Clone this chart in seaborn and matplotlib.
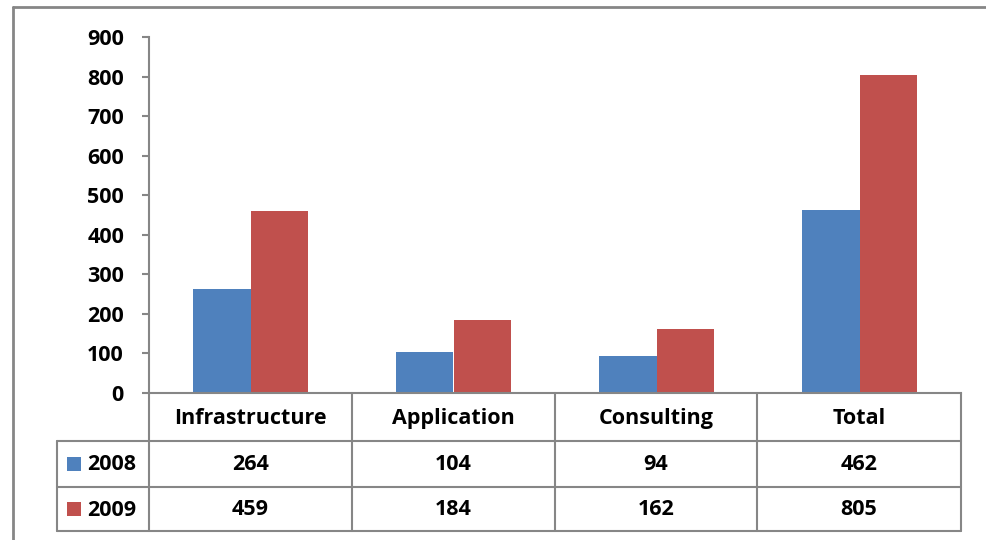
import matplotlib
matplotlib.use("Agg")
import matplotlib.pyplot as plt
from matplotlib.lines import Line2D
from matplotlib.patches import Rectangle
import seaborn as sns
import pandas as pd

categories = ["Infrastructure", "Application", "Consulting", "Total"]
years = ["2008", "2009"]
values_2008 = [264, 104, 94, 462]
values_2009 = [459, 184, 162, 805]
yticks = [0, 100, 200, 300, 400, 500, 600, 700, 800, 900]

BLUE = "#4F81BD"
RED = "#C0504D"
GRAY = "#868686"
W, H = 986, 540
FS = 15.5

sns.set_theme(style="white")
plt.rcParams["font.family"] = ["Open Sans", "DejaVu Sans"]

df = pd.DataFrame({
    "category": categories * 2,
    "year": [years[0]] * len(categories) + [years[1]] * len(categories),
    "value": values_2008 + values_2009,
})

fig = plt.figure(figsize=(W / 100, H / 100), dpi=100)
fig.patch.set_facecolor("white")


def fx(x):
    return x / W


def fy(y):
    return 1 - y / H


# plot area in pixel terms
left, right, top, base = 149, 961, 37, 393
ax = fig.add_axes([fx(left), fy(base), (right - left) / W, (base - top) / H])

sns.barplot(data=df, x="category", y="value", hue="year", order=categories,
            hue_order=years, palette=[BLUE, RED], width=0.57, saturation=1,
            legend=False, linewidth=0, ax=ax)

ax.set_xlim(-0.5, len(categories) - 0.5)
ax.set_ylim(0, 900)
ax.set_yticks(yticks)
ax.set_yticklabels([str(t) for t in yticks], fontsize=FS, fontweight="bold", color="black")
ax.set_xticks([])
ax.set_xlabel("")
ax.set_ylabel("")
for side in ["top", "right"]:
    ax.spines[side].set_visible(False)
for side in ["left", "bottom"]:
    ax.spines[side].set_color(GRAY)
    ax.spines[side].set_linewidth(1.5)
ax.tick_params(axis="y", left=True, length=5, width=1.5, color=GRAY, pad=13)
ax.set_facecolor("white")


def hline(y, x0, x1):
    fig.add_artist(Line2D([fx(x0), fx(x1)], [fy(y), fy(y)], color=GRAY, lw=1.5,
                          transform=fig.transFigure))


def vline(x, y0, y1):
    fig.add_artist(Line2D([fx(x), fx(x)], [fy(y0), fy(y1)], color=GRAY, lw=1.5,
                          transform=fig.transFigure))


# data table under the bars
col_edges = [149, 352, 555, 757, 961]
row_edges = [393, 441, 487, 531]
label_left = 57

for y in row_edges[1:]:
    hline(y, label_left, col_edges[-1])
for x in col_edges:
    vline(x, row_edges[0], row_edges[-1])
vline(label_left, row_edges[1], row_edges[-1])

txt = dict(fontsize=FS, fontweight="bold", color="black", ha="center", va="center",
           transform=fig.transFigure)
for i, cat in enumerate(categories):
    cx = (col_edges[i] + col_edges[i + 1]) / 2
    fig.text(fx(cx), fy(418.5), cat, **txt)
    fig.text(fx(cx), fy(465), str(values_2008[i]), **txt)
    fig.text(fx(cx), fy(509.5), str(values_2009[i]), **txt)

# legend keys in the row headers
for yr, color, cy in [(years[0], BLUE, 464), (years[1], RED, 509)]:
    fig.add_artist(Rectangle((fx(67), fy(cy + 7)), 14 / W, 14 / H, facecolor=color,
                             edgecolor="none", transform=fig.transFigure))
    fig.text(fx(87), fy(cy + 1), yr, fontsize=FS, fontweight="bold", color="black",
             ha="left", va="center", transform=fig.transFigure)

# chart frame
fig.add_artist(Line2D([fx(13), fx(13)], [fy(7), 0], color=GRAY, lw=2, transform=fig.transFigure))
fig.add_artist(Line2D([fx(13), 1], [fy(7), fy(7)], color=GRAY, lw=2, transform=fig.transFigure))

fig.savefig("out.png", dpi=100, facecolor="white")
